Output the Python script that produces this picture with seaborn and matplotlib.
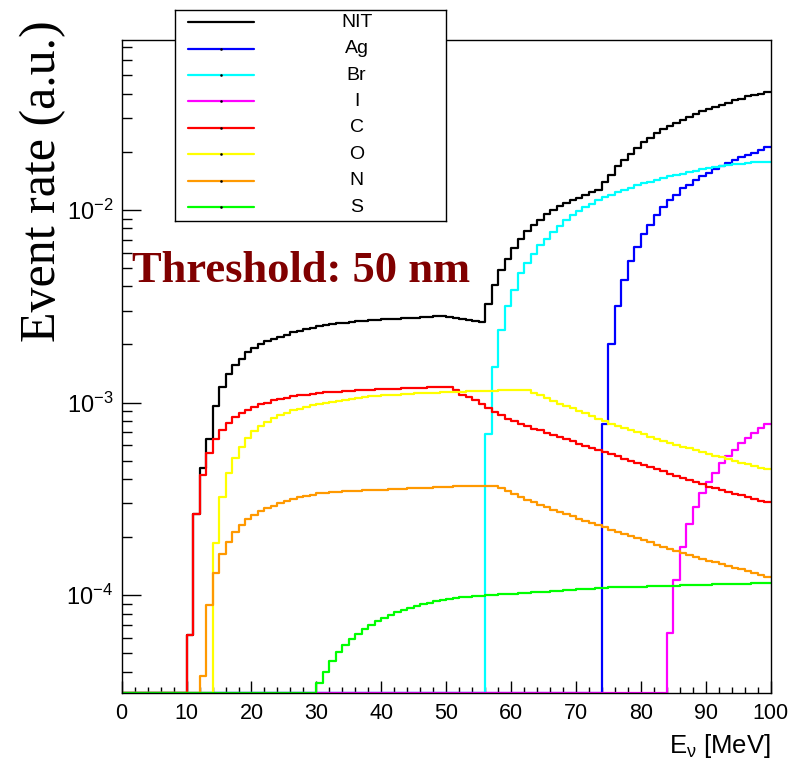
import numpy as np
import seaborn as sns
from matplotlib import pyplot as plt
from matplotlib.ticker import MultipleLocator, LogLocator, NullFormatter

# 1 MeV bins from 0 to 100 MeV
energy_edges = list(range(0, 101))

# event rate per bin (a.u.); 0 = empty bin
nit = [0.0] * 10 + [
    6.2e-5, 2.65e-4, 4.58e-4, 6.5e-4, 9.6e-4,
    1.20e-3, 1.40e-3, 1.56e-3, 1.69e-3, 1.82e-3,
    1.92e-3, 2.00e-3, 2.08e-3, 2.14e-3, 2.19e-3,
    2.24e-3, 2.31e-3, 2.35e-3, 2.40e-3, 2.44e-3,
    2.48e-3, 2.51e-3, 2.55e-3, 2.58e-3, 2.60e-3,
    2.62e-3, 2.65e-3, 2.66e-3, 2.68e-3, 2.69e-3,
    2.70e-3, 2.71e-3, 2.72e-3, 2.74e-3, 2.75e-3,
    2.76e-3, 2.77e-3, 2.78e-3, 2.80e-3, 2.80e-3,
    2.78e-3, 2.76e-3, 2.72e-3, 2.69e-3, 2.65e-3,
    2.62e-3, 3.25e-3, 4.06e-3, 4.89e-3, 5.57e-3,
    6.35e-3, 7.02e-3, 7.74e-3, 8.29e-3, 8.87e-3,
    9.53e-3, 9.92e-3, 1.04e-2, 1.08e-2, 1.12e-2,
    1.15e-2, 1.20e-2, 1.23e-2, 1.27e-2, 1.39e-2,
    1.52e-2, 1.68e-2, 1.82e-2, 1.95e-2, 2.09e-2,
    2.24e-2, 2.36e-2, 2.49e-2, 2.61e-2, 2.72e-2,
    2.83e-2, 2.92e-2, 3.04e-2, 3.14e-2, 3.24e-2,
    3.34e-2, 3.43e-2, 3.51e-2, 3.60e-2, 3.69e-2,
    3.77e-2, 3.87e-2, 3.94e-2, 4.01e-2, 4.07e-2,
]

ag = [0.0] * 74 + [
    7.78e-4, 2.02e-3, 3.16e-3, 4.30e-3, 5.40e-3, 6.40e-3,
    7.45e-3, 8.36e-3, 9.34e-3, 1.03e-2, 1.12e-2,
    1.20e-2, 1.29e-2, 1.35e-2, 1.43e-2, 1.49e-2,
    1.56e-2, 1.62e-2, 1.69e-2, 1.75e-2, 1.81e-2,
    1.87e-2, 1.93e-2, 1.98e-2, 2.05e-2, 2.11e-2,
]

br = [0.0] * 56 + [
    6.9e-4, 1.53e-3, 2.37e-3, 3.16e-3,
    3.85e-3, 4.71e-3, 5.29e-3, 5.92e-3, 6.53e-3,
    7.08e-3, 7.66e-3, 8.22e-3, 8.81e-3, 9.34e-3,
    9.84e-3, 1.03e-2, 1.07e-2, 1.12e-2, 1.16e-2,
    1.20e-2, 1.23e-2, 1.27e-2, 1.30e-2, 1.34e-2,
    1.37e-2, 1.40e-2, 1.43e-2, 1.46e-2, 1.49e-2,
    1.52e-2, 1.54e-2, 1.57e-2, 1.59e-2, 1.62e-2,
    1.64e-2, 1.66e-2, 1.68e-2, 1.70e-2, 1.72e-2,
    1.73e-2, 1.74e-2, 1.76e-2, 1.77e-2, 1.77e-2,
]

iod = [0.0] * 84 + [
    6.4e-5, 1.20e-4, 1.77e-4, 2.33e-4, 2.88e-4, 3.38e-4,
    3.85e-4, 4.31e-4, 4.83e-4, 5.29e-4, 5.70e-4,
    6.13e-4, 6.56e-4, 6.97e-4, 7.38e-4, 7.69e-4,
]

carbon = [0.0] * 10 + [
    6.2e-5, 2.65e-4, 4.20e-4, 5.45e-4, 6.43e-4,
    7.24e-4, 7.80e-4, 8.36e-4, 8.80e-4, 9.15e-4,
    9.50e-4, 9.80e-4, 1.00e-3, 1.025e-3, 1.045e-3,
    1.06e-3, 1.075e-3, 1.09e-3, 1.10e-3, 1.11e-3,
    1.12e-3, 1.127e-3, 1.133e-3, 1.14e-3, 1.145e-3,
    1.15e-3, 1.155e-3, 1.16e-3, 1.165e-3, 1.17e-3,
    1.175e-3, 1.178e-3, 1.18e-3, 1.185e-3, 1.188e-3,
    1.19e-3, 1.195e-3, 1.198e-3, 1.20e-3, 1.20e-3,
    1.20e-3, 1.16e-3, 1.10e-3, 1.07e-3, 1.03e-3,
    9.88e-4, 9.31e-4, 8.94e-4, 8.59e-4, 8.26e-4,
    8.03e-4, 7.78e-4, 7.54e-4, 7.33e-4, 7.18e-4,
    6.96e-4, 6.78e-4, 6.61e-4, 6.44e-4, 6.28e-4,
    6.11e-4, 5.96e-4, 5.81e-4, 5.66e-4, 5.52e-4,
    5.38e-4, 5.25e-4, 5.12e-4, 4.99e-4, 4.86e-4,
    4.73e-4, 4.61e-4, 4.50e-4, 4.39e-4, 4.28e-4,
    4.17e-4, 4.06e-4, 3.96e-4, 3.86e-4, 3.76e-4,
    3.66e-4, 3.59e-4, 3.52e-4, 3.44e-4, 3.37e-4,
    3.30e-4, 3.24e-4, 3.17e-4, 3.10e-4, 3.04e-4,
]

oxygen = [0.0] * 14 + [
    1.87e-4,
    3.22e-4, 4.31e-4, 5.13e-4, 5.89e-4, 6.56e-4,
    7.10e-4, 7.53e-4, 7.94e-4, 8.30e-4, 8.60e-4,
    8.85e-4, 9.10e-4, 9.30e-4, 9.50e-4, 9.65e-4,
    9.80e-4, 9.95e-4, 1.007e-3, 1.02e-3, 1.035e-3,
    1.045e-3, 1.058e-3, 1.07e-3, 1.077e-3, 1.084e-3,
    1.09e-3, 1.095e-3, 1.10e-3, 1.105e-3, 1.11e-3,
    1.115e-3, 1.118e-3, 1.12e-3, 1.125e-3, 1.13e-3,
    1.133e-3, 1.135e-3, 1.14e-3, 1.145e-3, 1.148e-3,
    1.15e-3, 1.15e-3, 1.152e-3, 1.155e-3, 1.158e-3,
    1.16e-3, 1.165e-3, 1.165e-3, 1.12e-3, 1.09e-3,
    1.05e-3, 1.02e-3, 9.88e-4, 9.57e-4, 9.31e-4,
    9.05e-4, 8.77e-4, 8.49e-4, 8.26e-4, 8.03e-4,
    7.78e-4, 7.57e-4, 7.36e-4, 7.18e-4, 6.99e-4,
    6.83e-4, 6.64e-4, 6.48e-4, 6.32e-4, 6.18e-4,
    6.05e-4, 5.91e-4, 5.78e-4, 5.64e-4, 5.51e-4,
    5.40e-4, 5.29e-4, 5.19e-4, 5.07e-4, 4.97e-4,
    4.87e-4, 4.77e-4, 4.68e-4, 4.58e-4, 4.53e-4,
]

nitrogen = [0.0] * 12 + [
    3.82e-5, 8.91e-5, 1.30e-4,
    1.63e-4, 1.90e-4, 2.12e-4, 2.31e-4, 2.48e-4,
    2.61e-4, 2.73e-4, 2.82e-4, 2.91e-4, 3.00e-4,
    3.08e-4, 3.16e-4, 3.22e-4, 3.28e-4, 3.33e-4,
    3.38e-4, 3.40e-4, 3.44e-4, 3.45e-4, 3.46e-4,
    3.47e-4, 3.48e-4, 3.50e-4, 3.51e-4, 3.52e-4,
    3.53e-4, 3.55e-4, 3.56e-4, 3.57e-4, 3.58e-4,
    3.60e-4, 3.61e-4, 3.62e-4, 3.63e-4, 3.64e-4,
    3.66e-4, 3.67e-4, 3.68e-4, 3.69e-4, 3.70e-4,
    3.70e-4, 3.70e-4, 3.70e-4, 3.60e-4, 3.48e-4,
    3.36e-4, 3.24e-4, 3.13e-4, 3.03e-4, 2.94e-4,
    2.86e-4, 2.78e-4, 2.71e-4, 2.64e-4, 2.57e-4,
    2.50e-4, 2.43e-4, 2.37e-4, 2.31e-4, 2.25e-4,
    2.19e-4, 2.14e-4, 2.08e-4, 2.03e-4, 1.98e-4,
    1.93e-4, 1.88e-4, 1.83e-4, 1.78e-4, 1.74e-4,
    1.69e-4, 1.65e-4, 1.61e-4, 1.58e-4, 1.55e-4,
    1.51e-4, 1.48e-4, 1.45e-4, 1.42e-4, 1.39e-4,
    1.36e-4, 1.33e-4, 1.30e-4, 1.27e-4, 1.25e-4,
]

sulfur = [0.0] * 30 + [
    3.52e-5, 4.02e-5, 4.58e-5, 5.10e-5, 5.53e-5,
    5.91e-5, 6.30e-5, 6.66e-5, 7.02e-5, 7.33e-5,
    7.62e-5, 7.90e-5, 8.16e-5, 8.39e-5, 8.59e-5,
    8.81e-5, 8.98e-5, 9.16e-5, 9.31e-5, 9.46e-5,
    9.58e-5, 9.69e-5, 9.77e-5, 9.84e-5, 9.91e-5,
    9.96e-5, 1.000e-4, 1.005e-4, 1.010e-4, 1.015e-4,
    1.020e-4, 1.025e-4, 1.030e-4, 1.035e-4, 1.040e-4,
    1.045e-4, 1.050e-4, 1.057e-4, 1.062e-4, 1.067e-4,
    1.072e-4, 1.077e-4, 1.082e-4, 1.088e-4, 1.095e-4,
    1.098e-4, 1.100e-4, 1.103e-4, 1.106e-4, 1.108e-4,
    1.110e-4, 1.113e-4, 1.116e-4, 1.118e-4, 1.120e-4,
    1.123e-4, 1.126e-4, 1.128e-4, 1.130e-4, 1.133e-4,
    1.136e-4, 1.138e-4, 1.140e-4, 1.143e-4, 1.146e-4,
    1.148e-4, 1.150e-4, 1.153e-4, 1.156e-4, 1.160e-4,
]

names = ["NIT", "Ag", "Br", "I", "C", "O", "N", "S"]
series = [nit, ag, br, iod, carbon, oxygen, nitrogen, sulfur]
colors = ["#000000", "#0000ff", "#00ffff", "#ff00ff",
          "#ff0000", "#ffff00", "#ff9900", "#00ff00"]

ymin, ymax = 3.1e-5, 0.076

sns.set_style("ticks")
plt.rcParams["font.family"] = ["Liberation Sans", "DejaVu Sans"]
plt.rcParams["mathtext.fontset"] = "custom"
plt.rcParams["mathtext.rm"] = "Liberation Sans"
plt.rcParams["mathtext.it"] = "Liberation Sans:italic"
plt.rcParams["mathtext.default"] = "regular"
plt.rcParams["text.color"] = "black"
plt.rcParams["xtick.color"] = "black"
plt.rcParams["ytick.color"] = "black"
plt.rcParams["xtick.labelcolor"] = "black"
plt.rcParams["ytick.labelcolor"] = "black"

fig = plt.figure(figsize=(8.01, 7.62), dpi=100)
fig.patch.set_facecolor("white")
ax = fig.add_axes([0.1519, 0.0902, 0.8103, 0.8573])
ax.set_facecolor("white")

centers = np.array(energy_edges[:-1]) + 0.5
for name, vals, col in zip(names, series, colors):
    h = np.array(vals)
    # empty bins are drawn on the lower frame, like ROOT does on log axes
    h = np.where(h > 0, h, ymin)
    sns.histplot(x=centers, weights=h, bins=energy_edges, element="step",
                 fill=False, color=col, linewidth=1.6, ax=ax)

ax.set_yscale("log")
ax.set_xlim(0, 100)
ax.set_ylim(ymin, ymax)
ax.set_xlabel("")
ax.set_ylabel("")

ax.xaxis.set_major_locator(MultipleLocator(10))
ax.xaxis.set_minor_locator(MultipleLocator(2))
ax.yaxis.set_major_locator(LogLocator(base=10))
ax.yaxis.set_minor_locator(LogLocator(base=10, subs=np.arange(2, 10)))
ax.yaxis.set_minor_formatter(NullFormatter())

ax.tick_params(axis="x", which="major", direction="in", length=9, width=1,
               labelsize=15.5, pad=7, color="black", labelcolor="black", top=False)
ax.tick_params(axis="x", which="minor", direction="in", length=4.3, width=1,
               color="black", top=False)
ax.tick_params(axis="y", which="major", direction="in", length=13.7, width=1,
               labelsize=17, pad=6, color="black", labelcolor="black", right=False)
ax.tick_params(axis="y", which="minor", direction="in", length=7.2, width=1,
               color="black", right=False)
for sp in ax.spines.values():
    sp.set_visible(True)
    sp.set_color("black")
    sp.set_linewidth(1.0)

fig.text(770.7 / 801, 1 - 753 / 762, "E$_{ν}$ [MeV]", ha="right", va="baseline",
         fontsize=18.5, color="black")
fig.text(43 / 801, 1 - 20 / 762, "Event rate (a.u.)", rotation=90,
         ha="center", va="top", fontsize=36, color="black",
         family=["Liberation Serif", "DejaVu Serif"])
fig.text(131.7 / 801, 1 - 281.7 / 762, "Threshold: 50 nm", ha="left", va="baseline",
         fontsize=32, fontweight="bold", color="#800000",
         family=["Liberation Serif", "DejaVu Serif"])

# legend box drawn ROOT-style: line on the left, centred label on the right
leg = fig.add_axes([175 / 801, 1 - 220.5 / 762, 271 / 801, 211 / 762])
leg.set_xlim(0, 1)
leg.set_ylim(0, 1)
leg.set_xticks([])
leg.set_yticks([])
leg.set_facecolor("white")
for sp in leg.spines.values():
    sp.set_color("black")
    sp.set_linewidth(1.0)
for i, (name, col) in enumerate(zip(names, colors)):
    yy = 0.940 - i * 0.1253
    leg.plot([0.049, 0.2926], [yy, yy], color=col, lw=1.6)
    if i > 0:
        leg.plot([0.171], [yy], marker="s", ms=0.8, color="black", lw=0)
    leg.text(0.670, yy, name, ha="center", va="center", fontsize=14, color="black")

fig.savefig("out.png", dpi=100)
